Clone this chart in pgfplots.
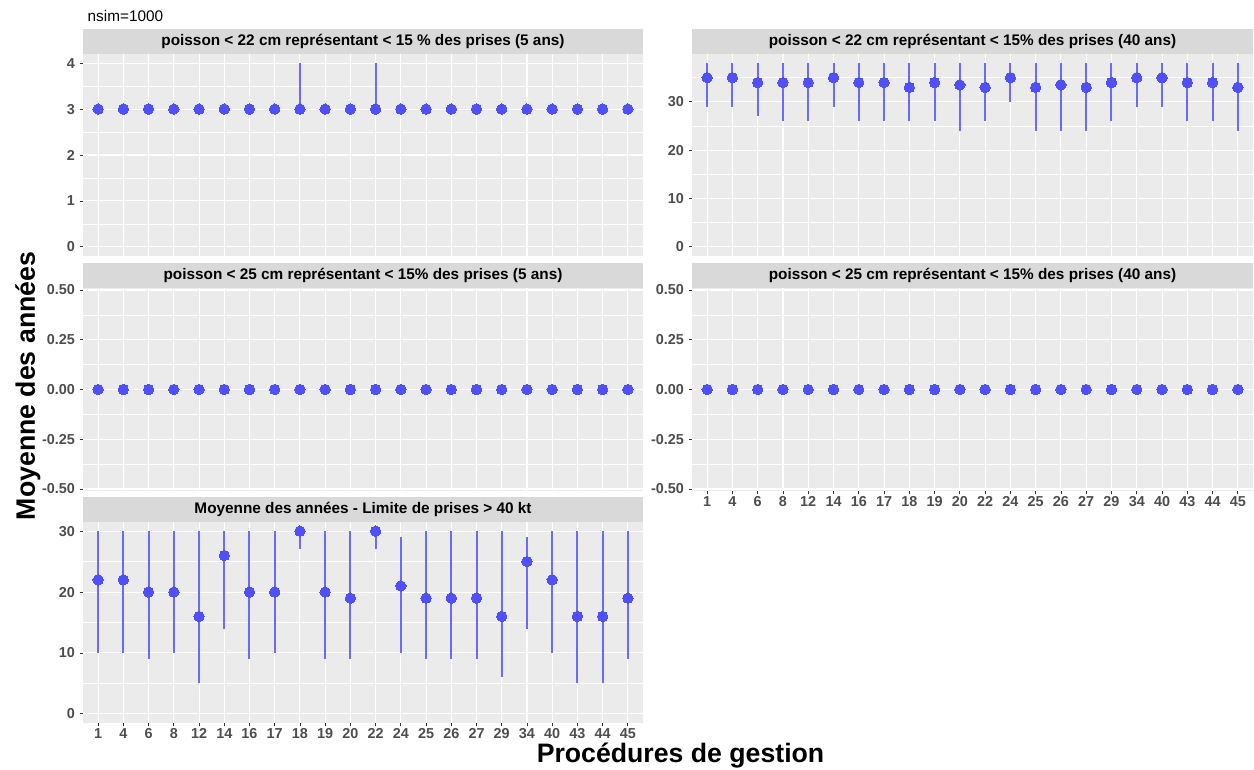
\documentclass[border=0pt]{standalone}
\usepackage{pgfplots}
\pgfplotsset{compat=1.18}
\usepackage{pgfplotstable}
\usepackage{fontspec}
\setmainfont{Liberation Sans}

\definecolor{panelbg}{HTML}{EBEBEB}
\definecolor{stripbg}{HTML}{D9D9D9}
\definecolor{ticktext}{HTML}{4D4D4D}
\definecolor{tickline}{HTML}{333333}
\definecolor{ptblue}{HTML}{5050FA}
\definecolor{lnblue}{HTML}{6A6AFC}

% x = position of the management procedure (1,4,6,...,45), y = mean, lo/hi = range
\pgfplotstableread{
x y lo hi
0 3 3 3
1 3 3 3
2 3 3 3
3 3 3 3
4 3 3 3
5 3 3 3
6 3 3 3
7 3 3 3
8 3 3 4
9 3 3 3
10 3 3 3
11 3 3 4
12 3 3 3
13 3 3 3
14 3 3 3
15 3 3 3
16 3 3 3
17 3 3 3
18 3 3 3
19 3 3 3
20 3 3 3
21 3 3 3
}\tabTL

\pgfplotstableread{
x y lo hi
0 35 29 38
1 35 29 38
2 34 27 38
3 34 26 38
4 34 26 38
5 35 29 38
6 34 26 38
7 34 26 38
8 33 26 38
9 34 26 38
10 33.5 24 38
11 33 26 38
12 35 30 38
13 33 24 38
14 33.5 24 38
15 33 24 38
16 34 26 38
17 35 29 38
18 35 29 38
19 34 26 38
20 34 26 38
21 33 24 38
}\tabTR

\pgfplotstableread{
x y
0 0
1 0
2 0
3 0
4 0
5 0
6 0
7 0
8 0
9 0
10 0
11 0
12 0
13 0
14 0
15 0
16 0
17 0
18 0
19 0
20 0
21 0
}\tabZero

\pgfplotstableread{
x y lo hi
0 22 10 30
1 22 10 30
2 20 9 30
3 20 10 30
4 16 5 30
5 26 14 30
6 20 9 30
7 20 10 30
8 30 27 30
9 20 9 30
10 19 9 30
11 30 27 30
12 21 10 29
13 19 9 30
14 19 9 30
15 19 9 30
16 16 6 30
17 25 14 29
18 22 10 30
19 16 5 30
20 16 5 30
21 19 9 30
}\tabBL

\pgfplotsset{
  facet/.style={
    scale only axis,
    anchor=north west,
    axis background/.style={fill=panelbg},
    axis line style={draw=none},
    xmin=-0.6, xmax=21.6,
    xtick={0,...,21},
    xmajorgrids, ymajorgrids, yminorgrids,
    major grid style={white, line width=0.8pt},
    minor grid style={white, line width=0.4pt},
    tick align=outside,
    major tick length=2.6pt,
    minor tick length=0pt,
    tick style={tickline, line width=0.6pt},
    xtick pos=bottom, ytick pos=left,
    ticklabel style={font=\bfseries\fontsize{10.8}{12}\selectfont, text=ticktext},
    xticklabel style={inner sep=1.5pt},
    title style={at={(0.5,1)}, anchor=south, yshift=-6pt, fill=stripbg,
      minimum width=\pgfkeysvalueof{/pgfplots/width}, minimum height=18.75pt,
      inner sep=0pt, text=black, font=\bfseries\fontsize{11.5}{13}\selectfont},
  },
  nox/.style={xticklabels={}, xtick style={draw=none}},
  withx/.style={xticklabels={1,4,6,8,12,14,16,17,18,19,20,22,24,25,26,27,29,34,40,43,44,45}},
  rng/.style={color=lnblue, only marks, mark=none, forget plot,
    error bars/.cd, y dir=both, y explicit, error mark=none,
    error bar style={color=lnblue, solid, line width=1.5pt}},
  pts/.style={only marks, mark=*, mark size=3.9pt,
    mark options={fill=ptblue, draw=ptblue, line width=0pt}},
}

\begin{document}
\begin{tikzpicture}
\path[use as bounding box] (0,0) rectangle (940.5pt,-577.5pt);

\node[anchor=base west, font=\fontsize{11.5}{13}\selectfont] at (62.25pt,-16.5pt) {nsim=1000};

% top left: < 22 cm, 5 years
\begin{axis}[facet, nox, at={(62.25pt,-40.5pt)}, width=420pt, height=151.5pt,
    ymin=-0.2, ymax=4.2, ytick={0,1,2,3,4}, yticklabels={0,1,2,3,4},
    minor ytick={0.5,1.5,2.5,3.5},
    title={poisson < 22 cm représentant < 15 \% des prises (5 ans)}]
  \addplot[rng] table[x=x, y=y, y error plus expr=\thisrow{hi}-\thisrow{y},
    y error minus expr=\thisrow{y}-\thisrow{lo}] {\tabTL};
  \addplot[pts] table[x=x, y=y] {\tabTL};
\end{axis}

% top right: < 22 cm, 40 years
\begin{axis}[facet, nox, at={(519pt,-40.5pt)}, width=420.75pt, height=151.5pt,
    ymin=-1.9, ymax=39.9, ytick={0,10,20,30}, yticklabels={0,10,20,30},
    minor ytick={5,15,25,35},
    title={poisson < 22 cm représentant < 15\% des prises (40 ans)}]
  \addplot[rng] table[x=x, y=y, y error plus expr=\thisrow{hi}-\thisrow{y},
    y error minus expr=\thisrow{y}-\thisrow{lo}] {\tabTR};
  \addplot[pts] table[x=x, y=y] {\tabTR};
\end{axis}

% middle left: < 25 cm, 5 years
\begin{axis}[facet, nox, at={(62.25pt,-216pt)}, width=420pt, height=152.25pt,
    ymin=-0.51, ymax=0.51, ytick={-0.5,-0.25,0,0.25,0.5},
    yticklabels={-0.50,-0.25,0.00,0.25,0.50},
    minor ytick={-0.375,-0.125,0.125,0.375},
    title={poisson < 25 cm représentant < 15\% des prises (5 ans)}]
  \addplot[pts] table[x=x, y=y] {\tabZero};
\end{axis}

% middle right: < 25 cm, 40 years
\begin{axis}[facet, withx, at={(519pt,-216pt)}, width=420.75pt, height=152.25pt,
    ymin=-0.51, ymax=0.51, ytick={-0.5,-0.25,0,0.25,0.5},
    yticklabels={-0.50,-0.25,0.00,0.25,0.50},
    minor ytick={-0.375,-0.125,0.125,0.375},
    title={poisson < 25 cm représentant < 15\% des prises (40 ans)}]
  \addplot[pts] table[x=x, y=y] {\tabZero};
\end{axis}

% bottom left: catch limit > 40 kt
\begin{axis}[facet, withx, at={(62.25pt,-391.5pt)}, width=420pt, height=150.75pt,
    ymin=-1.5, ymax=31.5, ytick={0,10,20,30}, yticklabels={0,10,20,30},
    minor ytick={5,15,25},
    title={Moyenne des années - Limite de prises > 40 kt}]
  \addplot[rng] table[x=x, y=y, y error plus expr=\thisrow{hi}-\thisrow{y},
    y error minus expr=\thisrow{y}-\thisrow{lo}] {\tabBL};
  \addplot[pts] table[x=x, y=y] {\tabBL};
\end{axis}

\node[anchor=base, rotate=90, font=\bfseries\fontsize{20}{24}\selectfont]
  at (26.25pt,-289.5pt) {Moyenne des années};
\node[anchor=base, font=\bfseries\fontsize{20}{24}\selectfont]
  at (510.4pt,-571.5pt) {Procédures de gestion};
\end{tikzpicture}
\end{document}
